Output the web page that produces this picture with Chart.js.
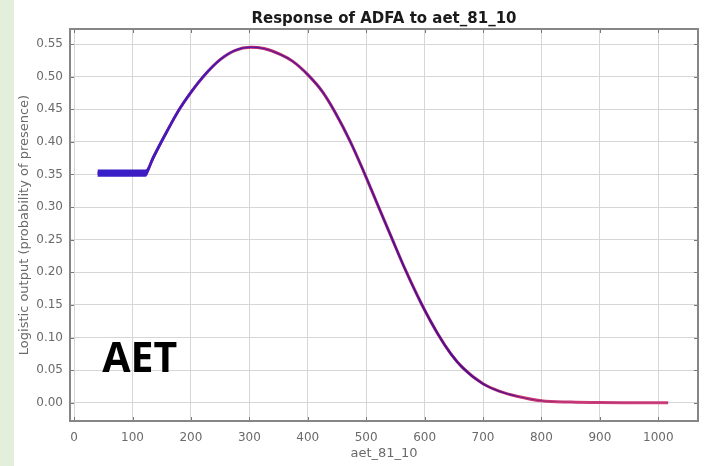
<!DOCTYPE html>
<html>
<head>
<meta charset="utf-8">
<script src="https://cdn.jsdelivr.net/npm/chart.js@4.4.1/dist/chart.umd.min.js"></script>
<style>
  html, body { margin: 0; padding: 0; background: #ffffff; }
  #strip { position: absolute; left: 0; top: 0; width: 14px; height: 466px; background: #e3eedb; }
  #wrap { position: absolute; left: 14px; top: 0; width: 693px; height: 466px; }
</style>
</head>
<body>
<div id="strip"></div>
<div id="wrap"><canvas id="myChart"></canvas></div>
<script>
// values
var aetValues = [40, 60, 80, 100, 122, 135, 150, 165, 181, 200, 224, 250, 275, 302, 325, 353, 375, 400,
  425, 447, 473, 495, 518, 544, 568, 595, 623, 645, 666, 700, 730, 758, 800, 850, 900, 950, 1000, 1017];
var meanValues = [0.352, 0.352, 0.352, 0.352, 0.352, 0.375, 0.401, 0.426, 0.451, 0.476, 0.503, 0.526, 0.540, 0.545, 0.543, 0.534, 0.523, 0.503,
  0.477, 0.445, 0.40, 0.356, 0.307, 0.252, 0.202, 0.151, 0.105, 0.075, 0.053, 0.029, 0.017, 0.010, 0.003, 0.001, 0.0002, 0, 0, 0];
// spread of the replicates (half width of the blue band)
var sdValues = [0.0055, 0.0055, 0.0055, 0.0055, 0.0055, 0.005, 0.0045, 0.004, 0.0035, 0.003, 0.0025, 0.0018, 0.0012, 0.0006, 0.0006, 0.0008, 0.001, 0.0013,
  0.0018, 0.0023, 0.0028, 0.003, 0.0033, 0.0035, 0.0035, 0.0033, 0.003, 0.0028, 0.0024, 0.0018, 0.0013, 0.0009, 0.0005, 0.0003, 0.0002, 0.0002, 0.0002, 0.0002];

var xTicks = [0, 100, 200, 300, 400, 500, 600, 700, 800, 900, 1000];
var yTicks = [0, 0.05, 0.10, 0.15, 0.20, 0.25, 0.30, 0.35, 0.40, 0.45, 0.50, 0.55];
var yTickLabels = ['0.00', '0.05', '0.10', '0.15', '0.20', '0.25', '0.30', '0.35', '0.40', '0.45', '0.50', '0.55'];
var chartTitle = 'Response of ADFA to aet_81_10';
var xTitle = 'aet_81_10';
var yTitle = 'Logistic output (probability of presence)';
var noteText = 'AET';
var notePos = { x: 48, y: 0.0475 };

function pts(ys) {
  return aetValues.map(function (x, i) { return { x: x, y: ys[i] }; });
}
var upper = meanValues.map(function (v, i) { return v + sdValues[i]; });
var lower = meanValues.map(function (v, i) { return v - sdValues[i]; });

function bandColor(context) {
  var chart = context.chart;
  var area = chart.chartArea;
  if (!area) return '#4a16a8';
  var g = chart.ctx.createLinearGradient(area.left, 0, area.right, 0);
  g.addColorStop(0, '#3422d0');
  g.addColorStop(0.2, '#4418b8');
  g.addColorStop(0.6, '#50108e');
  g.addColorStop(1, '#8a1a70');
  return g;
}

function meanColor(context) {
  var chart = context.chart;
  var area = chart.chartArea;
  if (!area) return '#c8306e';
  var g = chart.ctx.createLinearGradient(area.left, 0, area.right, 0);
  g.addColorStop(0, '#a82a80');
  g.addColorStop(0.4, '#b82866');
  g.addColorStop(1, '#d4457e');
  return g;
}

// frame, inner tick marks and the big label
var framePlugin = {
  id: 'frame',
  afterDraw: function (chart) {
    var ctx = chart.ctx, a = chart.chartArea;
    var xs = chart.scales.x, ys = chart.scales.y;
    ctx.save();
    ctx.strokeStyle = '#7a7a7a';
    ctx.lineWidth = 1;
    xTicks.forEach(function (v) {
      var px = Math.round(xs.getPixelForValue(v)) + 0.5;
      ctx.beginPath();
      ctx.moveTo(px, a.bottom); ctx.lineTo(px, a.bottom - 4);
      ctx.moveTo(px, a.top); ctx.lineTo(px, a.top + 4);
      ctx.stroke();
    });
    yTicks.forEach(function (v) {
      var py = Math.round(ys.getPixelForValue(v)) + 0.5;
      ctx.beginPath();
      ctx.moveTo(a.left, py); ctx.lineTo(a.left + 4, py);
      ctx.moveTo(a.right, py); ctx.lineTo(a.right - 4, py);
      ctx.stroke();
    });
    ctx.strokeStyle = '#868686';
    ctx.lineWidth = 2;
    ctx.strokeRect(a.left, a.top, a.right - a.left, a.bottom - a.top);
    ctx.fillStyle = '#000000';
    ctx.font = 'bold 41px "Open Sans"';
    ctx.textBaseline = 'alphabetic';
    ctx.fillText(noteText, xs.getPixelForValue(notePos.x), ys.getPixelForValue(notePos.y));
    ctx.restore();
  }
};

var tickFont = { family: 'DejaVu Sans', size: 12 };

var ctx = document.getElementById('myChart').getContext('2d');
var chart = new Chart(ctx, {
  type: 'line',
  data: {
    datasets: [{
      label: 'mean + sd',
      data: pts(upper),
      borderWidth: 0,
      pointRadius: 0,
      backgroundColor: bandColor,
      fill: '+1',
      order: 1
    }, {
      label: 'mean - sd',
      data: pts(lower),
      borderWidth: 0,
      pointRadius: 0,
      fill: false,
      order: 1
    }, {
      label: 'mean',
      data: pts(meanValues),
      borderColor: meanColor,
      borderWidth: 3,
      pointRadius: 0,
      fill: false,
      order: 2
    }]
  },
  options: {
    responsive: true,
    maintainAspectRatio: false,
    animation: false,
    cubicInterpolationMode: 'monotone',
    layout: { padding: { left: 0, right: 9, top: 0, bottom: 0 } },
    plugins: {
      legend: { display: false },
      tooltip: { enabled: false },
      title: {
        display: true,
        fullSize: false,
        text: chartTitle,
        color: '#1a1a1a',
        font: { family: 'DejaVu Sans', size: 15, weight: 'bold' },
        padding: { top: 10, bottom: 1 }
      }
    },
    scales: {
      x: {
        type: 'linear',
        min: -7,
        max: 1068,
        afterBuildTicks: function (s) { s.ticks = xTicks.map(function (v) { return { value: v }; }); },
        afterFit: function (s) { s.height = 45; },
        grid: { color: '#d6d6d6', drawTicks: false },
        border: { display: false },
        ticks: { padding: 10, color: '#6a6a6a', font: tickFont, autoSkip: false, maxRotation: 0,
          callback: function (v) { return String(v); } },
        title: { display: true, text: xTitle, color: '#6a6a6a', font: { family: 'DejaVu Sans', size: 13 }, padding: 5 }
      },
      y: {
        min: -0.028,
        max: 0.573,
        afterBuildTicks: function (s) { s.ticks = yTicks.map(function (v) { return { value: v }; }); },
        afterFit: function (s) { s.width = 56; },
        grid: { color: '#d6d6d6', drawTicks: false },
        border: { display: false },
        ticks: { padding: 7, color: '#6a6a6a', font: tickFont, autoSkip: false,
          callback: function (v, i) { return yTickLabels[i]; } },
        title: { display: true, text: yTitle, color: '#6a6a6a', font: { family: 'DejaVu Sans', size: 13 }, padding: 3 }
      }
    }
  },
  plugins: [framePlugin]
});
</script>
</body>
</html>
